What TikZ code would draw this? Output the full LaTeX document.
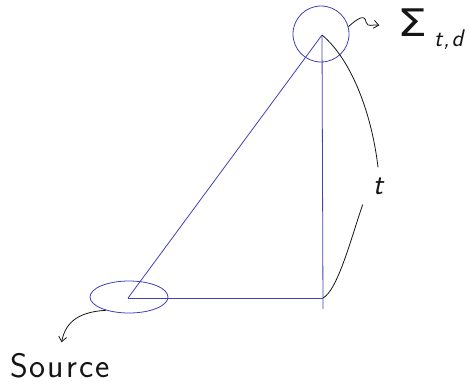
\documentclass[tikz,border=0pt]{standalone}
\usepackage{fontspec}
\newfontfamily\greekfont{DejaVu Sans}
\usepackage{xcolor}
\definecolor{pen-blue}{HTML}{4040B8}
\definecolor{pen-black}{HTML}{151515}
\usepackage{tikz}
\usetikzlibrary{shapes.geometric,arrows.meta,positioning,calc}

\begin{document}
\begin{tikzpicture}[x=1pt, y=-1pt,
  ray/.style={draw=pen-blue, line width=0.8pt},
  ring/.style={circle, draw=pen-blue, line width=0.8pt, minimum size=56pt, inner sep=0pt},
  oval/.style={ellipse, draw=pen-blue, line width=0.8pt, minimum width=78pt, minimum height=32pt, inner sep=0pt},
  ink/.style={draw=pen-black, line width=0.8pt},
  arr/.style={ink, -{Straight Barb[length=5pt, width=8pt]}},
  hand/.style={text=pen-black, font=\sffamily\fontsize{30}{30}\selectfont}]

  \useasboundingbox (0,0) rectangle (470,389);

  % corners of the triangle
  \coordinate (apex)   at (322,35);
  \coordinate (src)    at (128,298);
  \coordinate (corner) at (323,298);
  \coordinate (foot)   at (323,309);

  \node[ring] (top)     at (321,34) {};
  \node[oval] (srcring) at (129,297) {};

  \node[hand, inner sep=10pt] (tlabel) at (378,186) {\itshape t};
  \node[hand, anchor=base west, inner sep=0pt] (sigma) at (397,36)
    {{\greekfont\fontsize{38}{38}\selectfont\scalebox{1.25}[1]{Σ}}\hspace{7pt}\raisebox{-10pt}{\fontsize{24}{24}\selectfont\itshape t\kern1pt,\kern2pt d}};
  \node[hand, font=\sffamily\fontsize{34}{34}\selectfont] (source) at (60,366) {S\kern2pt o\kern2pt u\kern2pt r\kern2pt c\kern2pt e};

  \draw[ray] (src) -- (apex);
  \draw[ray] (apex) -- (foot);
  \draw[ray] (src) -- (corner);

  \draw[ink] (apex) .. controls (352,60) and (372,115) .. (tlabel.north);
  \draw[ink] (tlabel.south west) .. controls (352,235) and (338,290) .. (corner);

  \draw[arr, shorten >=18pt] (top.15) .. controls (358,18) and (365,14) .. (366,22)
    .. controls (368,28) and (372,24) .. (sigma.west);
  \draw[arr, shorten >=8pt] (srcring.210) .. controls (75,312) and (65,325) .. (source.north);

\end{tikzpicture}
\end{document}
